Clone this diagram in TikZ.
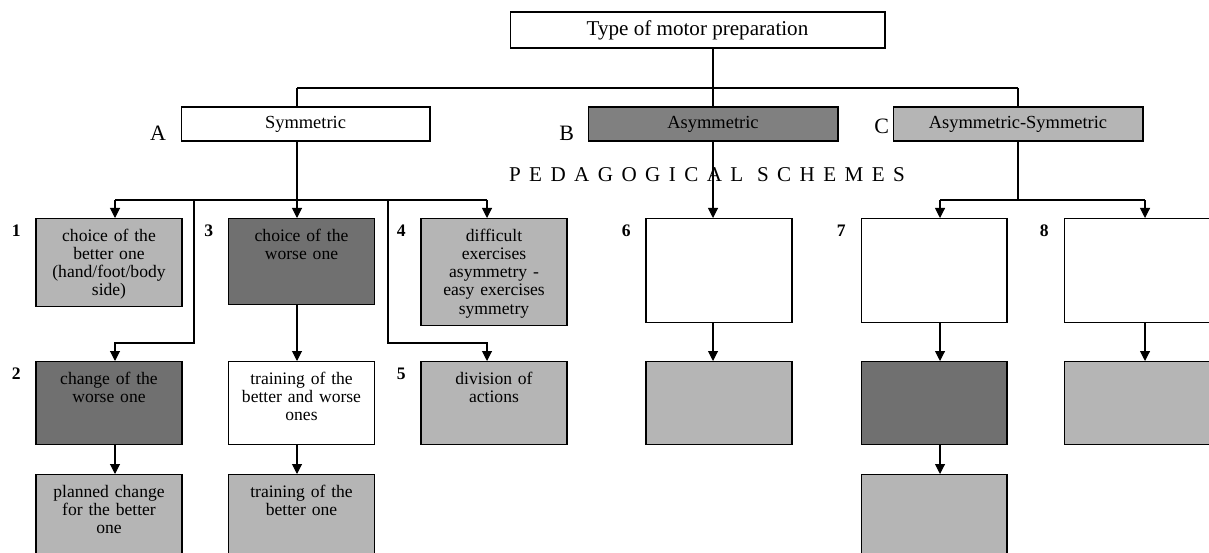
\documentclass[tikz,border=0pt]{standalone}
\usepackage{fontspec}
\setmainfont{Liberation Serif}
\usetikzlibrary{arrows.meta,positioning}

\definecolor{lightbox}{gray}{0.71}
\definecolor{darkbox}{gray}{0.44}
\definecolor{midbox}{gray}{0.5}

\begin{document}
\begin{tikzpicture}[
  x=0.02cm,y=-0.02cm,
  font=\fontsize{10}{10.4}\selectfont,
  line width=0.6pt,
  kind/.style={draw,minimum width=#1,minimum height=0.68cm,inner sep=0pt,
               font=\fontsize{10.5}{12}\selectfont},
  scheme/.style={draw,anchor=north,minimum width=2.92cm,text width=2.72cm,
                 align=center,inner xsep=0.1cm,inner ysep=0.1cm,text height=0.35cm},
  num/.style={font=\bfseries\fontsize{10}{12}\selectfont,inner sep=1pt},
  letter/.style={font=\fontsize{12.5}{13}\selectfont,inner sep=0pt},
  tip/.style={-{Triangle[length=0.2cm,width=0.2cm]}}
]
\clip (0,0) rectangle (1209,553);

% top level
\node[kind=7.5cm,minimum height=0.72cm,font=\fontsize{12}{14}\selectfont] (type) at (697.5,30) {Type of motor preparation};
\node[kind=4.98cm] (sym) at (305.5,124) {Symmetric};
\node[kind=5cm,fill=midbox] (asym) at (713,124) {Asymmetric};
\node[kind=5cm,fill=lightbox] (asyms) at (1018,124) {Asymmetric-Symmetric};

\node[letter,left=0.28cm of sym.south west,anchor=south east] (la) {A};
\node[letter,left=0.26cm of asym.south west,anchor=south east] (lb) {B};
\node[letter,above left=0.14cm and 0.06cm of asyms.south west] (lc) {C};

\node[font=\fontsize{12}{14}\selectfont] (ped) at (707,175) {\addfontfeatures{LetterSpace=40}PEDAGOGICAL SCHEMES};

% symmetric schemes
\node[scheme,fill=lightbox,text depth=1.21cm] (b1) at (109,218) {choice of the\\better one\\(hand/foot/body\\side)};
\node[scheme,fill=darkbox,text depth=1.17cm] (b3) at (301.5,218) {choice of the\\worse one};
\node[scheme,fill=lightbox,text depth=1.59cm] (b4) at (494,218) {difficult\\exercises\\asymmetry -\\easy exercises\\symmetry};
\node[scheme,fill=darkbox,text depth=1.11cm] (b2) at (109,361) {change of the\\worse one};
\node[scheme,text depth=1.11cm] (b3a) at (301.5,361) {training of the\\better and worse\\ones};
\node[scheme,fill=lightbox,text depth=1.11cm] (b5) at (494,361) {division of\\actions};
\node[scheme,fill=lightbox,text depth=1.4cm] (b2a) at (109,474) {planned change\\for the better\\one};
\node[scheme,fill=lightbox,text depth=1.4cm] (b3b) at (301.5,474) {training of the\\better one};

% asymmetric and mixed schemes
\node[scheme,text depth=1.53cm] (b6) at (719,218) {};
\node[scheme,fill=lightbox,text depth=1.11cm] (b6a) at (719,361) {};
\node[scheme,text depth=1.53cm] (b7) at (934,218) {};
\node[scheme,fill=darkbox,text depth=1.11cm] (b7a) at (934,361) {};
\node[scheme,fill=lightbox,text depth=1.4cm] (b7b) at (934,474) {};
\node[scheme,text depth=1.53cm] (b8) at (1137,218) {};
\node[scheme,fill=lightbox,text depth=1.11cm] (b8a) at (1137,361) {};

\node[num,below left=1mm and 2.5mm of b1.north west] (n1) {1};
\node[num,below left=1mm and 2.5mm of b2.north west] (n2) {2};
\node[num,below left=1mm and 2.5mm of b3.north west] (n3) {3};
\node[num,below left=1mm and 2.5mm of b4.north west] (n4) {4};
\node[num,below left=1mm and 2.5mm of b5.north west] (n5) {5};
\node[num,below left=1mm and 2.5mm of b6.north west] (n6) {6};
\node[num,below left=1mm and 2.5mm of b7.north west] (n7) {7};
\node[num,below left=1mm and 2.5mm of b8.north west] (n8) {8};

% connectors
\coordinate (bus) at (713,88);
\coordinate (busA) at (297,88);
\coordinate (busC) at (1018,88);
\draw (type.south -| bus) -- (bus);
\draw (busA) -- (busC);
\draw (busA) -- (busA |- sym.north);
\draw (bus) -- (asym.north);
\draw (busC) -- (asyms.north);

\coordinate (forkA) at (297,200);
\coordinate (k1) at (115,200);
\coordinate (k4) at (487,200);
\coordinate (s2) at (194,200);
\coordinate (s5) at (388,200);
\coordinate (k2) at (115,343);
\coordinate (k5) at (487,343);
\draw (sym.south -| forkA) -- (forkA);
\draw (k1) -- (k4);
\draw[tip] (k1) -- (k1 |- b1.north);
\draw[tip] (forkA) -- (forkA |- b3.north);
\draw[tip] (k4) -- (k4 |- b4.north);
\draw[tip] (s2) |- (k2) -- (k2 |- b2.north);
\draw[tip] (s5) |- (k5) -- (k5 |- b5.north);
\draw[tip] (forkA |- b3.south) -- (forkA |- b3a.north);
\draw[tip] (forkA |- b3a.south) -- (forkA |- b3b.north);
\draw[tip] (k2 |- b2.south) -- (k2 |- b2a.north);

\draw[tip] (asym.south) -- (asym.south |- b6.north);
\draw[tip] (asym.south |- b6.south) -- (asym.south |- b6a.north);

\coordinate (forkC) at (1018,200);
\coordinate (k7) at (940,200);
\coordinate (k8) at (1145,200);
\draw (asyms.south) -- (forkC);
\draw (k7) -- (k8);
\draw[tip] (k7) -- (k7 |- b7.north);
\draw[tip] (k8) -- (k8 |- b8.north);
\draw[tip] (k7 |- b7.south) -- (k7 |- b7a.north);
\draw[tip] (k7 |- b7a.south) -- (k7 |- b7b.north);
\draw[tip] (k8 |- b8.south) -- (k8 |- b8a.north);
\end{tikzpicture}
\end{document}
